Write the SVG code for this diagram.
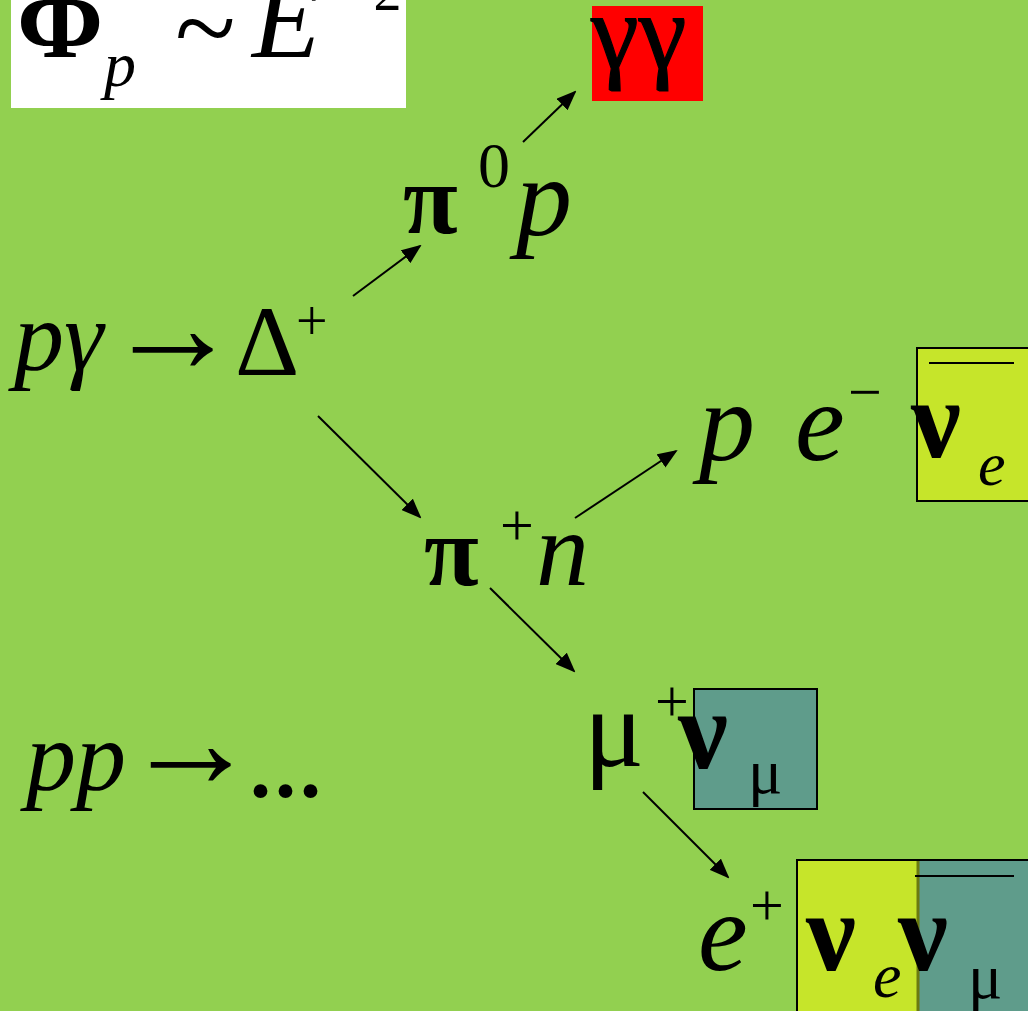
<svg xmlns="http://www.w3.org/2000/svg" width="1028" height="1011" viewBox="0 0 1028 1011">
<defs>
<marker id="ah" markerWidth="10" markerHeight="8" refX="9" refY="4" orient="auto" markerUnits="strokeWidth">
<path d="M0,0 L10,4 L0,8 z" fill="#000"/>
</marker>
<style>
.t{font-family:"Liberation Serif","Times New Roman",serif;fill:#000}
.i{font-style:italic}
.b{font-weight:bold}
.big{font-size:100px}
.lg{font-size:112px}
.sm{font-size:56px}
.ss{font-size:64px}
.arw{font-size:135px}
.box{stroke:#000;stroke-width:2}
.ln{stroke:#000;stroke-width:2;fill:none}
.ar{stroke:#000;stroke-width:2;fill:none;marker-end:url(#ah)}
</style>
</defs>
<rect width="1028" height="1011" fill="#92D050"/>

<g id="formula">
<rect x="11" y="-2" width="395" height="110" fill="#fff"/>
<text class="t b" x="17" y="57" font-size="104">Φ</text>
<text class="t i ss" x="104" y="86">p</text>
<text class="t lg" x="175" y="66">~</text>
<text class="t i lg" x="252" y="57">E</text>
<text class="t sm" x="342" y="10">−2</text>
</g>

<g id="gammagamma">
<rect x="592" y="6" width="111" height="95" fill="#FF0000"/>
<text class="t" x="591" y="68" font-size="108" stroke="#000" stroke-width="1.2">γγ</text>
</g>

<g id="pi0p">
<text class="t b big" x="403" y="233">π</text>
<text class="t" x="478" y="187" font-size="64">0</text>
<text class="t i lg" x="516" y="235">p</text>
</g>

<g id="pgamma">
<text class="t i big" x="14" y="370">pγ</text>
<text class="t arw" x="105" y="372">→</text>
<text class="t big" x="235" y="375">Δ</text>
<text class="t sm" x="296" y="340">+</text>
</g>

<g id="pipn">
<text class="t b big" x="424" y="585">π</text>
<text class="t" x="500" y="545" font-size="60">+</text>
<text class="t i" x="536" y="585" font-size="106">n</text>
</g>

<g id="pe">
<rect class="box" x="917" y="348" width="115" height="153" fill="#C6E52A"/>
<text class="t i lg" x="699" y="460">p</text>
<text class="t i lg" x="795" y="460">e</text>
<text class="t" x="848" y="412" font-size="60">−</text>
<text class="t b lg" x="911" y="457">ν</text>
<line class="ln" x1="929" y1="363" x2="1014" y2="363"/>
<text class="t i" x="978" y="485" font-size="62">e</text>
</g>

<g id="munu">
<rect class="box" x="694" y="689" width="123" height="120" fill="#5F9C8B"/>
<text class="t lg" x="584" y="766">μ</text>
<text class="t" x="655" y="721" font-size="60">+</text>
<text class="t b lg" x="678" y="768">ν</text>
<text class="t ss" x="748" y="793">μ</text>
</g>

<g id="enunu">
<rect class="box" x="797" y="860" width="121" height="155" fill="#C6E52A"/>
<rect class="box" x="918" y="860" width="115" height="155" fill="#5F9C8B"/>
<line x1="918" y1="861" x2="918" y2="1011" stroke="#6B7A10" stroke-width="3"/>
<text class="t i lg" x="698" y="970">e</text>
<text class="t" x="750" y="925" font-size="60">+</text>
<text class="t b lg" x="806" y="970">ν</text>
<text class="t i ss" x="873" y="997">e</text>
<text class="t b lg" x="898" y="970">ν</text>
<line class="ln" x1="915" y1="876" x2="1014" y2="876"/>
<text class="t ss" x="968" y="998">μ</text>
</g>

<g id="pp">
<text class="t i big" x="26" y="790">pp</text>
<text class="t arw" x="123" y="787">→</text>
<text class="t big" x="248" y="796" stroke="#000" stroke-width="2">...</text>
</g>

<g id="connectors">
<line class="ar" x1="523" y1="142" x2="575" y2="92"/>
<line class="ar" x1="353" y1="296" x2="420" y2="246"/>
<line class="ar" x1="318" y1="416" x2="420" y2="517"/>
<line class="ar" x1="575" y1="518" x2="676" y2="451"/>
<line class="ar" x1="490" y1="588" x2="574" y2="671"/>
<line class="ar" x1="643" y1="792" x2="728" y2="877"/>
</g>
</svg>
